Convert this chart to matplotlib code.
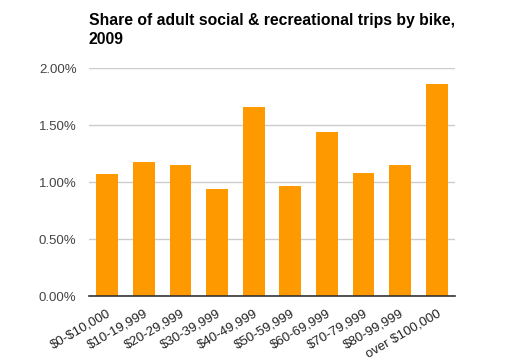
import matplotlib.pyplot as plt
from matplotlib.ticker import FuncFormatter

plt.rcParams['font.family'] = ['Liberation Sans', 'DejaVu Sans']

# Income brackets and share of trips by bike (%)
categories = ['$0-$10,000', '$10-19,999', '$20-29,999', '$30-39,999', '$40-49,999',
              '$50-59,999', '$60-69,999', '$70-79,999', '$80-99,999', 'over $100,000']
shares = [1.07, 1.18, 1.15, 0.94, 1.66, 0.97, 1.44, 1.08, 1.15, 1.86]
yticks = [0.0, 0.5, 1.0, 1.5, 2.0]

fig = plt.figure(figsize=(5.31, 3.63), dpi=100)
ax = fig.add_axes([0.1676, 0.1837, 0.6893, 0.6281])

x = range(len(categories))
ax.bar(x, shares, width=0.6, color='#ff9900', zorder=2)

ax.set_xlim(-0.5, len(categories) - 0.5)
ax.set_ylim(0, 2.0)
ax.set_yticks(yticks)
ax.yaxis.set_major_formatter(FuncFormatter(lambda v, p: '%.2f%%' % v))
ax.grid(axis='y', color='#cccccc', linewidth=1, zorder=0)

# escape dollar signs so they are not read as mathtext
ax.set_xticks(list(x))
ax.set_xticklabels([c.replace('$', r'\$') for c in categories], rotation=30,
                   ha='right', rotation_mode='anchor', fontsize=9.5, color='#222222')
ax.tick_params(axis='x', length=0, pad=8)
ax.tick_params(axis='y', length=0, pad=9, labelsize=9.5, labelcolor='#444444')

for s in ['top', 'right', 'left']:
    ax.spines[s].set_visible(False)
ax.spines['bottom'].set_color('#333333')
ax.spines['bottom'].set_linewidth(1.2)
ax.spines['bottom'].set_zorder(3)

fig.text(0.1676, 1 - 13 / 363, 'Share of adult social & recreational trips by bike,\n2009',
         ha='left', va='top', fontsize=11.3, fontweight='bold', color='black',
         linespacing=1.3)

fig.savefig('out.png', dpi=100)
